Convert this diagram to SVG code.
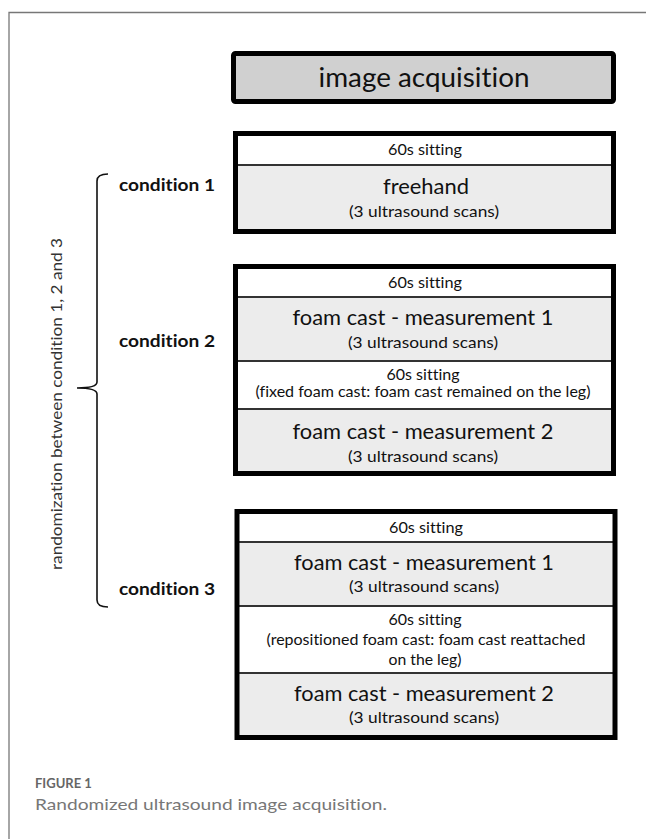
<svg xmlns="http://www.w3.org/2000/svg" width="646" height="839" viewBox="0 0 646 839">
<style>
.box{stroke:#000;stroke-width:5;fill:none}
.hdr{fill:#fff}
.body{fill:#ececec}
.div{stroke:#333;stroke-width:2}
text{font-family:Lato,"Liberation Sans",sans-serif;fill:#111;text-anchor:middle;font-variant-ligatures:none;font-feature-settings:"liga" 0,"clig" 0,"dlig" 0}
.s{font-size:15px}
.m{font-size:16px}
.l{font-size:22px}
.lab{font-size:17px;font-weight:bold;text-anchor:start}
.cap1{font-size:13px;font-weight:bold;fill:#666;text-anchor:start}
.cap2{font-size:16px;fill:#777;text-anchor:start}
</style>
<rect x="0" y="0" width="646" height="839" fill="#fff"/>
<path d="M9 839 V12.5 H646" fill="none" stroke="#777" stroke-width="1.3"/>

<g id="title">
<rect x="233.5" y="53.5" width="380" height="48" fill="#d0d0d0"/>
<rect x="233.5" y="53.5" width="380" height="48" class="box" rx="2"/>
<text x="424" y="87" style="font-size:27px" textLength="211" lengthAdjust="spacingAndGlyphs">image acquisition</text>
</g>

<g id="condition1">
<rect x="235.5" y="133.5" width="378" height="32" class="hdr"/>
<rect x="235.5" y="165" width="378" height="66.5" class="body"/>
<line x1="235.5" y1="165" x2="613.5" y2="165" class="div"/>
<rect x="235.5" y="133.5" width="378" height="98" class="box"/>
<text x="425" y="155" class="s" textLength="74" lengthAdjust="spacingAndGlyphs">60s sitting</text>
<text x="426" y="194" class="l" textLength="86" lengthAdjust="spacingAndGlyphs">freehand</text>
<text x="424" y="217" class="m" textLength="150" lengthAdjust="spacingAndGlyphs">(3 ultrasound scans)</text>
</g>

<g id="condition2">
<rect x="235.5" y="266.5" width="378" height="30.5" class="hdr"/>
<rect x="235.5" y="297" width="378" height="64" class="body"/>
<rect x="235.5" y="361" width="378" height="48" class="hdr"/>
<rect x="235.5" y="409" width="378" height="64.5" class="body"/>
<line x1="235.5" y1="297" x2="613.5" y2="297" class="div"/>
<line x1="235.5" y1="361" x2="613.5" y2="361" class="div"/>
<line x1="235.5" y1="409" x2="613.5" y2="409" class="div"/>
<rect x="235.5" y="266.5" width="378" height="207" class="box"/>
<text x="425" y="288" class="s" textLength="74" lengthAdjust="spacingAndGlyphs">60s sitting</text>
<text x="423" y="325" class="l" textLength="261" lengthAdjust="spacingAndGlyphs">foam cast - measurement 1</text>
<text x="423" y="348" class="m" textLength="150" lengthAdjust="spacingAndGlyphs">(3 ultrasound scans)</text>
<text x="423" y="380" class="s" textLength="73" lengthAdjust="spacingAndGlyphs">60s sitting</text>
<text x="423" y="397" class="s" textLength="335" lengthAdjust="spacingAndGlyphs">(fixed foam cast: foam cast remained on the leg)</text>
<text x="423" y="439" class="l" textLength="261" lengthAdjust="spacingAndGlyphs">foam cast - measurement 2</text>
<text x="423" y="462" class="m" textLength="150" lengthAdjust="spacingAndGlyphs">(3 ultrasound scans)</text>
</g>

<g id="condition3">
<rect x="237" y="511.5" width="378" height="30.5" class="hdr"/>
<rect x="237" y="542" width="378" height="64" class="body"/>
<rect x="237" y="606" width="378" height="67" class="hdr"/>
<rect x="237" y="673" width="378" height="64.5" class="body"/>
<line x1="237" y1="542" x2="615" y2="542" class="div"/>
<line x1="237" y1="606" x2="615" y2="606" class="div"/>
<line x1="237" y1="673" x2="615" y2="673" class="div"/>
<rect x="237" y="511.5" width="378" height="226" class="box"/>
<text x="426" y="533" class="s" textLength="74" lengthAdjust="spacingAndGlyphs">60s sitting</text>
<text x="424" y="570" class="l" textLength="260" lengthAdjust="spacingAndGlyphs">foam cast - measurement 1</text>
<text x="424" y="592" class="m" textLength="150" lengthAdjust="spacingAndGlyphs">(3 ultrasound scans)</text>
<text x="425" y="625" class="s" textLength="73" lengthAdjust="spacingAndGlyphs">60s sitting</text>
<text x="426" y="645" class="s" textLength="319" lengthAdjust="spacingAndGlyphs">(repositioned foam cast: foam cast reattached</text>
<text x="425" y="665" class="s" textLength="73" lengthAdjust="spacingAndGlyphs">on the leg)</text>
<text x="424" y="701" class="l" textLength="260" lengthAdjust="spacingAndGlyphs">foam cast - measurement 2</text>
<text x="424" y="723" class="m" textLength="150" lengthAdjust="spacingAndGlyphs">(3 ultrasound scans)</text>
</g>

<g id="labels">
<text x="119" y="191" class="lab" textLength="96" lengthAdjust="spacingAndGlyphs">condition 1</text>
<text x="119" y="347" class="lab" textLength="96" lengthAdjust="spacingAndGlyphs">condition 2</text>
<text x="119" y="595" class="lab" textLength="96" lengthAdjust="spacingAndGlyphs">condition 3</text>
</g>

<g id="connectors">
<path d="M108 174 Q97 174 97 181 V382 Q97 388 77 388 Q97 388 97 394 V600 Q97 607 108 607" fill="none" stroke="#111" stroke-width="1.6"/>
</g>

<g id="randomization">
<text transform="translate(62 404) rotate(-90)" class="m" style="fill:#333" textLength="332" lengthAdjust="spacingAndGlyphs">randomization between condition 1, 2 and 3</text>
</g>

<g id="caption">
<text x="35" y="788" class="cap1">FIGURE 1</text>
<text x="35" y="810" class="cap2" textLength="352" lengthAdjust="spacingAndGlyphs">Randomized ultrasound image acquisition.</text>
</g>
</svg>
